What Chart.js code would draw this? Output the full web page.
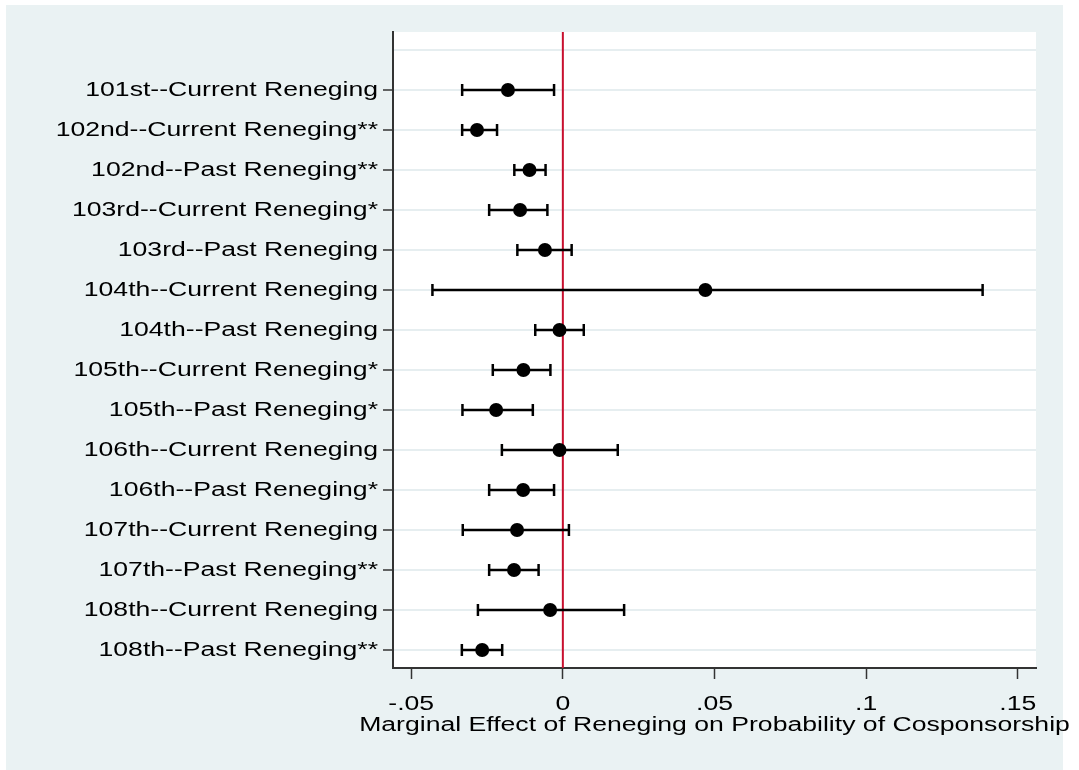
<!DOCTYPE html>
<html>
<head>
<meta charset="utf-8">
<script src="https://cdn.jsdelivr.net/npm/chart.js@4.4.1/dist/chart.umd.min.js"></script>
<style>
html, body { margin: 0; padding: 0; background: #ffffff; }
#wrap { width: 1079px; height: 770px; }
</style>
</head>
<body>
<div id="wrap"><canvas id="c" width="1079" height="770"></canvas></div>
<script>
// ---- data ----
const categories = [
  "101st--Current Reneging",
  "102nd--Current Reneging**",
  "102nd--Past Reneging**",
  "103rd--Current Reneging*",
  "103rd--Past Reneging",
  "104th--Current Reneging",
  "104th--Past Reneging",
  "105th--Current Reneging*",
  "105th--Past Reneging*",
  "106th--Current Reneging",
  "106th--Past Reneging*",
  "107th--Current Reneging",
  "107th--Past Reneging**",
  "108th--Current Reneging",
  "108th--Past Reneging**"
];
const estimates = [-0.0181, -0.0283, -0.0110, -0.0141, -0.0059, 0.0470, -0.0011, -0.0130, -0.0220, -0.0011, -0.0131, -0.0151, -0.0161, -0.0042, -0.0266];
const lowerCI   = [-0.0332, -0.0332, -0.0160, -0.0243, -0.0150, -0.0430, -0.0091, -0.0231, -0.0331, -0.0201, -0.0243, -0.0330, -0.0243, -0.0280, -0.0333];
const upperCI   = [-0.0029, -0.0217, -0.0057, -0.0051, 0.0029, 0.1384, 0.0069, -0.0041, -0.0099, 0.0181, -0.0029, 0.0020, -0.0080, 0.0202, -0.0200];
const xTicks = [-0.05, 0, 0.05, 0.1, 0.15];
const xTickLabels = ["-.05", "0", ".05", ".1", ".15"];
const refLineX = 0;
const xMin = -0.056, xMax = 0.156;
const yMin = -0.45, yMax = 15.45;
const xTitle = "Marginal Effect of Reneging on Probability of Cosponsorship";

// ---- wide text rendering (reference font is horizontally wide) ----
const SX = 1.33;
(function () {
  const proto = CanvasRenderingContext2D.prototype;
  const origFill = proto.fillText, origMeasure = proto.measureText;
  proto.fillText = function (text, x, y) {
    this.save();
    this.translate(x, y);
    this.scale(SX, 1);
    origFill.call(this, text, 0, 0);
    this.restore();
  };
  proto.measureText = function (text) {
    const m = origMeasure.call(this, text);
    return {
      width: m.width * SX,
      actualBoundingBoxAscent: m.actualBoundingBoxAscent,
      actualBoundingBoxDescent: m.actualBoundingBoxDescent,
      actualBoundingBoxLeft: m.actualBoundingBoxLeft * SX,
      actualBoundingBoxRight: m.actualBoundingBoxRight * SX,
      fontBoundingBoxAscent: m.fontBoundingBoxAscent,
      fontBoundingBoxDescent: m.fontBoundingBoxDescent
    };
  };
})();

// ---- datasets ----
const datasets = [];
datasets.push({
  label: "estimate",
  data: estimates.map((v, i) => ({ x: v, y: i + 1 })),
  backgroundColor: "#000000",
  borderColor: "#000000",
  pointRadius: 7,
  pointHoverRadius: 7,
  pointBorderWidth: 0,
  showLine: false,
  order: 0
});
categories.forEach((c, i) => {
  datasets.push({
    label: "ci " + c,
    data: [{ x: lowerCI[i], y: i + 1 }, { x: upperCI[i], y: i + 1 }],
    showLine: true,
    borderColor: "#000000",
    backgroundColor: "#000000",
    borderWidth: 2.5,
    pointStyle: "line",
    pointRotation: 90,
    pointRadius: 6,
    pointHoverRadius: 6,
    pointBorderWidth: 2.5,
    pointBorderColor: "#000000",
    order: 1
  });
});
datasets.push({
  label: "zero",
  data: [{ x: refLineX, y: yMin }, { x: refLineX, y: yMax }],
  showLine: true,
  borderColor: "#c8102e",
  borderWidth: 2,
  pointRadius: 0,
  pointHoverRadius: 0,
  order: 2
});

const bgPlugin = {
  id: "bg",
  beforeDraw(chart) {
    const ctx = chart.ctx, a = chart.chartArea;
    ctx.save();
    ctx.fillStyle = "#ffffff";
    ctx.fillRect(0, 0, chart.width, chart.height);
    ctx.fillStyle = "#eaf2f3";
    ctx.fillRect(6, 5, 1057, 765);
    ctx.fillStyle = "#ffffff";
    ctx.fillRect(a.left, a.top, a.right - a.left, a.bottom - a.top);
    ctx.restore();
  }
};

const FONT = { family: "'Liberation Sans', Arial, sans-serif", size: 20 };

new Chart(document.getElementById("c"), {
  type: "scatter",
  data: { datasets },
  plugins: [bgPlugin],
  options: {
    responsive: false,
    animation: false,
    events: [],
    layout: { padding: { left: 0, right: 43, top: 32, bottom: 0 } },
    plugins: { legend: { display: false }, tooltip: { enabled: false } },
    scales: {
      x: {
        type: "linear",
        min: xMin,
        max: xMax,
        afterBuildTicks: s => { s.ticks = xTicks.map(v => ({ value: v })); },
        afterFit: s => { s.height = 102; },
        ticks: {
          autoSkip: false,
          maxRotation: 0,
          color: "#000000",
          font: FONT,
          padding: 13,
          callback: v => { const k = xTicks.indexOf(v); return k >= 0 ? xTickLabels[k] : ""; }
        },
        grid: { drawOnChartArea: false, drawTicks: true, tickLength: 11, tickColor: "#333333", tickWidth: 1.5 },
        border: { display: true, color: "#333333", width: 2 },
        title: { display: true, text: xTitle, color: "#000000", font: FONT, padding: { top: 0, bottom: 33 } }
      },
      y: {
        type: "linear",
        reverse: true,
        min: yMin,
        max: yMax,
        afterBuildTicks: s => { s.ticks = [0].concat(categories.map((c, i) => i + 1)).map(v => ({ value: v })); },
        afterFit: s => { s.width = 393; },
        ticks: {
          autoSkip: false,
          color: "#000000",
          font: FONT,
          padding: 5,
          callback: v => (v >= 1 && v <= categories.length ? categories[v - 1] : "")
        },
        grid: {
          drawOnChartArea: true,
          drawTicks: true,
          color: "#e6eef0",
          lineWidth: 2,
          tickLength: 10,
          tickWidth: 1.5,
          tickColor: ctx => (ctx.tick && ctx.tick.value === 0 ? "rgba(0,0,0,0)" : "#333333")
        },
        border: { display: true, color: "#333333", width: 2 }
      }
    }
  }
});
</script>
</body>
</html>
